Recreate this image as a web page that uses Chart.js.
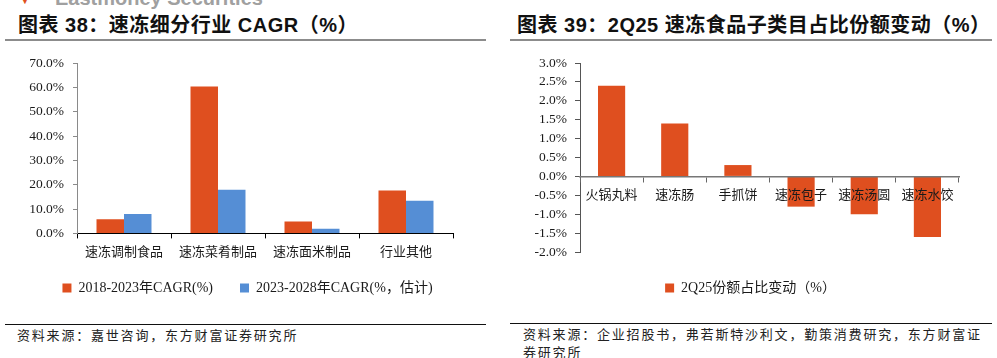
<!DOCTYPE html>
<html><head><meta charset="utf-8">
<script src="https://cdn.jsdelivr.net/npm/chart.js@4"></script>
<style>
html,body{margin:0;padding:0;width:997px;height:358px;overflow:hidden;background:#fff;position:relative;}
.abs{position:absolute;}
.title{font:bold 20px "Liberation Sans","Noto Sans CJK SC",sans-serif;letter-spacing:0.5px;color:#111;top:13px;line-height:24px;white-space:nowrap;}
.rule{height:2px;background:#8c8c8c;top:39px;}
.srule{height:1px;background:#111;}
.src{font:13px "Noto Sans CJK SC",sans-serif;letter-spacing:1.8px;color:#222;line-height:18px;}
</style></head>
<body>
<div class="abs" style="left:20px;top:-5px;color:#e05020;font-size:10px;line-height:12px">▼</div>
<div class="abs" style="left:55px;top:-13px;font:bold 20px 'Liberation Sans',sans-serif;color:#a0a0a0;line-height:22px">Eastmoney Securities</div>
<div class="abs title" style="left:18px">图表 38：速冻细分行业 CAGR（%）</div>
<div class="abs title" style="left:517px">图表 39：2Q25 速冻食品子类目占比份额变动（%）</div>
<div class="abs rule" style="left:5px;width:481px"></div>
<div class="abs rule" style="left:510px;width:482px"></div>
<canvas id="c1" class="abs" style="left:0;top:45px" width="495" height="275"></canvas>
<canvas id="c2" class="abs" style="left:500px;top:45px" width="497" height="275"></canvas>
<div class="abs srule" style="left:5px;width:481px;top:324px"></div>
<div class="abs srule" style="left:510px;width:482px;top:323px"></div>
<div class="abs src" style="left:17px;top:326px;white-space:nowrap">资料来源：嘉世咨询，东方财富证券研究所</div>
<div class="abs src" style="left:523px;top:325px;width:470px">资料来源：企业招股书，弗若斯特沙利文，勤策消费研究，东方财富证券研究所</div>
<script>
// ---- Chart 38 data ----
const categories38 = ['速冻调制食品', '速冻菜肴制品', '速冻面米制品', '行业其他'];
const cagr2018_2023 = [5.8, 60.3, 4.9, 17.6];
const cagr2023_2028 = [8.0, 17.9, 1.9, 13.4];
const seriesNames38 = ['2018-2023年CAGR(%)', '2023-2028年CAGR(%，估计)'];

// ---- Chart 39 data ----
const categories39 = ['火锅丸料', '速冻肠', '手抓饼', '速冻包子', '速冻汤圆', '速冻水饺'];
const shareChange2Q25 = [2.4, 1.4, 0.3, -0.8, -1.0, -1.6];
const seriesName39 = '2Q25份额占比变动（%）';

const ORANGE = '#DF4F1F';
const BLUE = '#558ED5';
const FONT = '"Liberation Serif","Noto Sans CJK SC",serif';
Chart.defaults.font.family = FONT;
Chart.defaults.color = '#1a1a1a';
Chart.defaults.animation = false;

const pct = v => Number(v).toFixed(1) + '%';

// moves the legend box after layout (centering / vertical placement)
const legendShift = {
  id: 'legendShift',
  beforeDraw(chart, args, opts) {
    const l = chart.legend;
    if (l && !l._shifted) {
      l.left += opts.dx || 0; l.right += opts.dx || 0;
      l.top += opts.dy || 0; l.bottom += opts.dy || 0;
      l._shifted = true;
    }
  }
};

new Chart(document.getElementById('c1'), {
  type: 'bar',
  data: {
    labels: categories38,
    datasets: [
      { label: seriesNames38[0], data: cagr2018_2023, backgroundColor: ORANGE, categoryPercentage: 0.585, barPercentage: 1 },
      { label: seriesNames38[1], data: cagr2023_2028, backgroundColor: BLUE, categoryPercentage: 0.585, barPercentage: 1 }
    ]
  },
  plugins: [legendShift],
  options: {
    responsive: false,
    layout: { padding: { top: 18, right: 42, left: 0, bottom: 3 } },
    plugins: {
      tooltip: { enabled: false },
      legendShift: { dx: 21, dy: -12 },
      legend: {
        position: 'bottom',
        labels: { boxWidth: 9, boxHeight: 9, padding: 27, font: { size: 14, family: FONT }, color: '#1a1a1a' }
      }
    },
    scales: {
      x: {
        grid: { drawOnChartArea: false, tickLength: 5, color: '#000', offset: true },
        border: { color: '#000', width: 1 },
        ticks: { padding: 6, font: { size: 13, family: FONT }, maxRotation: 0 }
      },
      y: {
        min: 0, max: 70,
        afterFit: s => { s.width = 77; },
        grid: { drawOnChartArea: false, tickLength: 4, color: '#8a8a8a' },
        border: { color: '#8a8a8a', width: 1 },
        ticks: { stepSize: 10, padding: 9, autoSkip: false, callback: pct, font: { size: 13.5, family: FONT } }
      }
    }
  }
});

new Chart(document.getElementById('c2'), {
  type: 'bar',
  data: {
    labels: categories39,
    datasets: [
      { label: seriesName39, data: shareChange2Q25, backgroundColor: ORANGE, categoryPercentage: 1, barPercentage: 0.43 }
    ]
  },
  plugins: [legendShift],
  options: {
    responsive: false,
    layout: { padding: { top: 18, right: 38, left: 0, bottom: 15 } },
    plugins: {
      tooltip: { enabled: false },
      legendShift: { dx: 21, dy: 0 },
      legend: {
        position: 'bottom',
        labels: { boxWidth: 9, boxHeight: 9, padding: 29, font: { size: 14, family: FONT }, color: '#1a1a1a' }
      }
    },
    scales: {
      x: {
        position: { y: 0 },
        grid: { drawOnChartArea: false, tickLength: 5, color: '#666', offset: true, z: 1 },
        border: { color: '#777', width: 1.5, z: 1 },
        ticks: { padding: 6, font: { size: 13, family: FONT }, maxRotation: 0, z: 1 }
      },
      y: {
        min: -2, max: 3,
        afterFit: s => { s.width = 80; },
        grid: { drawOnChartArea: false, tickLength: 5, color: '#555' },
        border: { color: '#555', width: 1 },
        ticks: { stepSize: 0.5, padding: 8, autoSkip: false, callback: pct, font: { size: 13.5, family: FONT } }
      }
    }
  }
});
</script>
</body></html>
